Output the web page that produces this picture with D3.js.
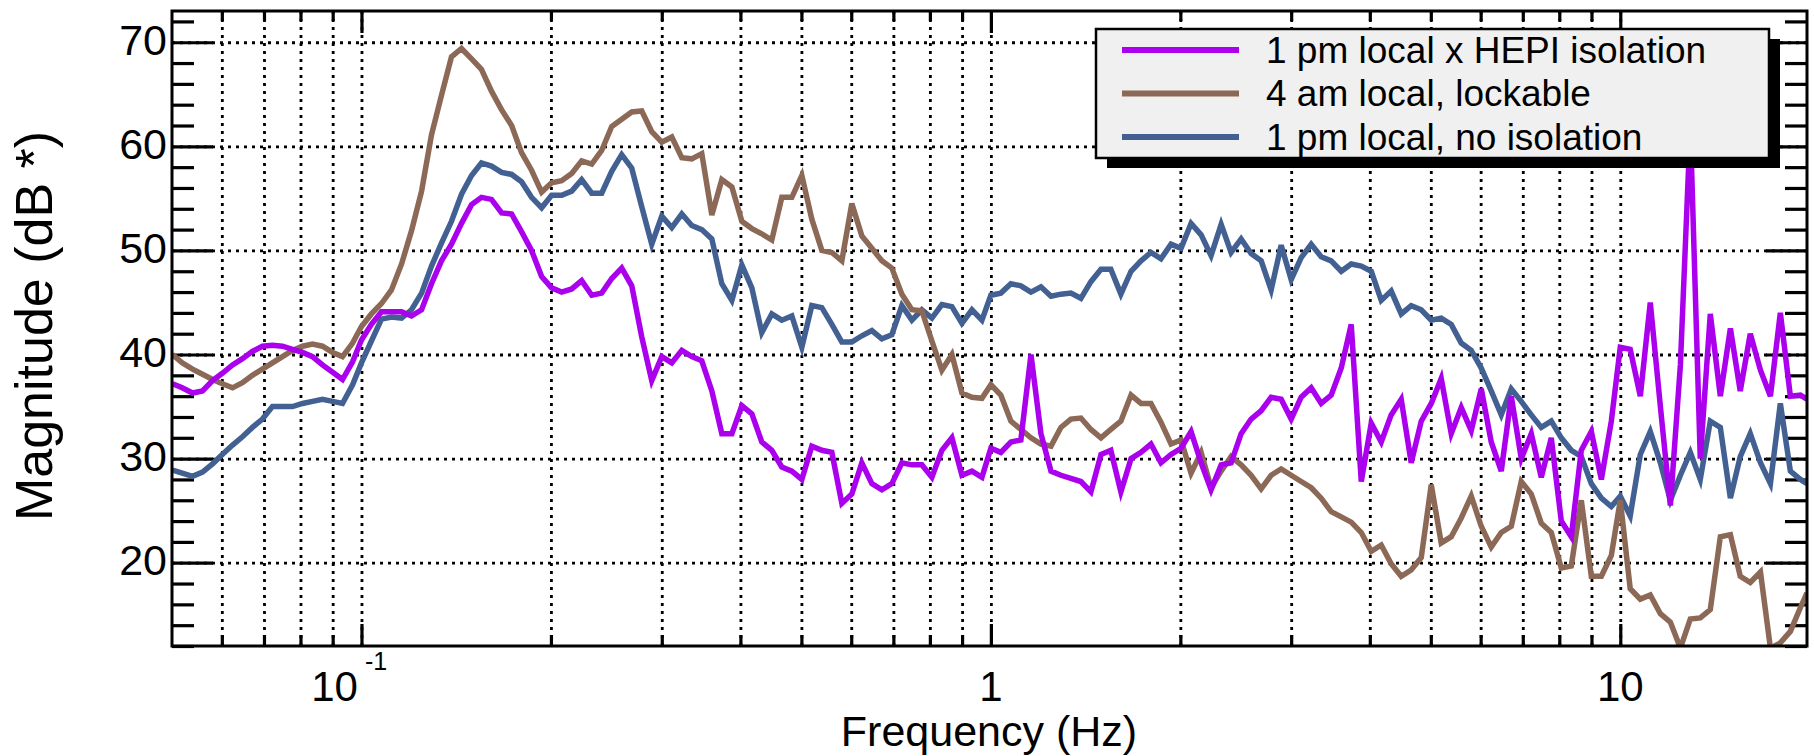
<!DOCTYPE html>
<html>
<head>
<meta charset="utf-8">
<script src="https://d3js.org/d3.v7.min.js"></script>
<style>
	body { margin: 0; background: #fff; }
	svg { display: block; }
	text { font-family: 'Liberation Sans', Arial, sans-serif; fill: #000; }
</style>
</head>
<body>
<div id="chart"></div>
<script>
var freqs = [
	0.0501, 0.0519, 0.0539, 0.0559, 0.0580, 0.0601, 0.0624, 0.0647, 0.0671, 0.0696,
	0.0722, 0.0749, 0.0777, 0.0806, 0.0836, 0.0867, 0.0900, 0.0933, 0.0968,
	0.1000, 0.1037, 0.1076, 0.1116, 0.1158, 0.1201, 0.1246, 0.1292, 0.1340, 0.1390,
	0.1442, 0.1496, 0.1551, 0.1609, 0.1670, 0.1732, 0.1796, 0.1863, 0.1933, 0.2005,
	0.2080, 0.2158, 0.2238, 0.2322, 0.2408, 0.2498, 0.2591, 0.2688, 0.2788, 0.2892,
	0.3000, 0.3112, 0.3228, 0.3348, 0.3473, 0.3603, 0.3737, 0.3877, 0.4021, 0.4171,
	0.4325, 0.4487, 0.4654, 0.4828, 0.5008, 0.5194, 0.5388, 0.5589, 0.5797, 0.6013,
	0.6237, 0.6470, 0.6711, 0.6961, 0.7221, 0.7490, 0.7769, 0.8059, 0.8359, 0.8671,
	0.8995, 0.9331, 0.9678,
	1.000, 1.037, 1.076, 1.116, 1.158, 1.201, 1.246, 1.292, 1.340, 1.390,
	1.442, 1.496, 1.551, 1.609, 1.670, 1.732, 1.796, 1.863, 1.933, 2.005,
	2.080, 2.158, 2.238, 2.322, 2.408, 2.498, 2.591, 2.688, 2.788, 2.892,
	3.000, 3.112, 3.228, 3.348, 3.473, 3.603, 3.737, 3.877, 4.021, 4.171,
	4.325, 4.487, 4.654, 4.828, 5.008, 5.194, 5.388, 5.589, 5.797, 6.013,
	6.237, 6.470, 6.711, 6.961, 7.221, 7.490, 7.769, 8.059, 8.359, 8.671,
	8.995, 9.331, 9.678,
	10.00, 10.37, 10.76, 11.16, 11.58, 12.01, 12.46, 12.92, 13.40, 13.90,
	14.42, 14.96, 15.51, 16.09, 16.70, 17.32, 17.96, 18.63, 19.33, 19.80
];

// 1 pm local x HEPI isolation
var hepiIsolation = [
	37.2, 36.8, 36.3, 36.5, 37.5, 38.2, 39.0, 39.6, 40.3, 40.8,
	40.9, 40.8, 40.5, 40.2, 39.8, 39.0, 38.3, 37.6, 39.3,
	41.4, 42.9, 44.1, 44.1, 44.1, 43.7, 44.3, 46.8, 49.0, 50.6,
	52.6, 54.4, 55.1, 54.9, 53.6, 53.5, 51.8, 50.0, 47.5, 46.4,
	46.0, 46.3, 47.1, 45.7, 45.9, 47.3, 48.3, 46.6, 41.7, 37.5,
	39.8, 39.2, 40.4, 39.8, 39.4, 36.5, 32.4, 32.4, 35.1, 34.3,
	31.6, 30.8, 29.2, 28.8, 28.0, 31.2, 30.8, 30.6, 25.7, 26.6,
	29.6, 27.6, 27.0, 27.6, 29.6, 29.4, 29.4, 28.2, 30.8, 32.0,
	28.4, 28.8, 28.2,
	31.0, 30.6, 31.6, 31.8, 40.0, 32.4, 28.8, 28.4, 28.1, 27.8,
	26.8, 30.4, 30.8, 26.8, 30.0, 30.6, 31.4, 29.6, 30.4, 31.0,
	32.6, 29.6, 27.0, 29.4, 29.6, 32.4, 33.8, 34.6, 35.9, 35.7,
	33.8, 35.9, 36.8, 35.3, 36.1, 38.7, 42.9, 27.8, 33.4, 31.6,
	34.2, 35.7, 29.6, 33.6, 35.3, 37.7, 32.4, 34.9, 32.7, 36.7,
	31.6, 28.8, 36.0, 30.0, 32.4, 28.2, 32.0, 24.0, 22.5, 30.8,
	32.6, 28.0, 33.6,
	40.7, 40.5, 36.0, 45.0, 35.0, 25.5, 39.0, 62.0, 30.0, 43.9,
	36.0, 42.5, 36.5, 42.0, 38.5, 36.0, 44.0, 36.0, 36.1, 35.7
];

// 4 am local, lockable
var lockable = [
	40.0, 39.2, 38.6, 38.1, 37.6, 37.2, 36.8, 37.3, 38.0, 38.6,
	39.2, 39.8, 40.4, 40.8, 41.0, 40.8, 40.2, 39.8, 41.1,
	42.7, 43.9, 44.9, 46.2, 48.7, 51.9, 55.7, 61.1, 64.9, 68.6,
	69.4, 68.4, 67.4, 65.3, 63.5, 62.0, 59.4, 57.7, 55.6, 56.5,
	56.7, 57.4, 58.6, 58.3, 59.6, 61.9, 62.6, 63.3, 63.4, 61.4,
	60.4, 60.9, 58.9, 58.8, 59.3, 53.4, 56.8, 56.1, 52.8, 52.1,
	51.6, 51.0, 55.1, 55.1, 57.2, 53.0, 50.0, 49.8, 49.0, 54.5,
	51.4, 50.2, 49.0, 48.3, 45.8, 44.3, 44.2, 41.3, 38.5, 40.0,
	36.3, 35.9, 35.8,
	37.1, 36.1, 33.6, 32.8, 32.0, 31.4, 31.2, 33.0, 33.8, 33.9,
	32.8, 32.0, 32.8, 33.6, 36.1, 35.3, 35.3, 33.5, 31.4, 31.8,
	28.6, 30.6, 27.2, 28.8, 30.2, 29.4, 28.4, 27.1, 28.4, 29.0,
	28.4, 27.8, 27.2, 26.2, 24.9, 24.4, 23.9, 22.9, 21.1, 21.7,
	19.9, 18.7, 19.3, 20.5, 27.5, 21.9, 22.5, 24.3, 26.4, 23.5,
	21.5, 22.9, 23.5, 27.8, 26.6, 23.8, 22.9, 19.5, 19.7, 26.0,
	18.7, 18.7, 20.7,
	26.0, 17.5, 16.5, 16.9, 15.1, 14.3, 11.8, 14.6, 14.7, 15.5,
	22.5, 22.7, 18.7, 18.1, 19.1, 11.8, 12.3, 13.4, 15.7, 17.1
];

// 1 pm local, no isolation
var noIsolation = [
	28.9, 28.6, 28.3, 28.7, 29.5, 30.4, 31.3, 32.1, 33.0, 33.8,
	35.0, 35.0, 35.0, 35.3, 35.5, 35.7, 35.5, 35.3, 37.1,
	39.2, 41.3, 43.4, 43.6, 43.5, 44.3, 45.9, 48.5, 50.7, 52.8,
	55.4, 57.2, 58.4, 58.1, 57.5, 57.3, 56.6, 55.1, 54.1, 55.3,
	55.3, 55.7, 56.8, 55.5, 55.5, 57.6, 59.2, 57.9, 54.2, 50.6,
	53.3, 52.2, 53.5, 52.4, 52.0, 51.1, 46.8, 45.2, 48.6, 46.4,
	42.1, 43.9, 43.3, 43.7, 40.7, 44.7, 44.5, 42.9, 41.2, 41.2,
	41.8, 42.3, 41.5, 41.9, 44.7, 43.3, 44.3, 43.5, 44.8, 44.6,
	43.0, 44.3, 43.3,
	45.7, 45.9, 46.8, 46.6, 46.0, 46.5, 45.6, 45.8, 45.9, 45.4,
	47.0, 48.2, 48.2, 45.8, 48.0, 49.0, 49.8, 49.2, 50.6, 50.2,
	52.6, 51.5, 49.5, 52.5, 49.8, 51.1, 49.7, 49.0, 46.2, 50.5,
	47.2, 49.3, 50.6, 49.4, 49.0, 48.0, 48.7, 48.5, 48.0, 45.2,
	46.1, 43.9, 44.7, 44.3, 43.3, 43.5, 42.9, 41.1, 40.4, 38.7,
	36.5, 34.2, 36.7, 35.5, 34.2, 33.0, 33.6, 32.0, 30.8, 30.2,
	27.6, 26.2, 25.4,
	26.4, 24.5, 30.4, 32.6, 29.6, 26.0, 28.4, 30.6, 28.0, 33.6,
	33.0, 26.2, 30.2, 32.4, 29.6, 27.6, 35.3, 28.8, 28.0, 27.6
];

var yMajorTicks = [20, 30, 40, 50, 60, 70];
var yMinorTicks = [12, 14, 16, 18, 22, 24, 26, 28, 32, 34, 36, 38, 42, 44, 46, 48,
	52, 54, 56, 58, 62, 64, 66, 68, 72];
var xMajorTicks = [0.1, 1, 10];
var xMinorTicks = [0.06, 0.07, 0.08, 0.09, 0.2, 0.3, 0.4, 0.5, 0.6, 0.7, 0.8, 0.9,
	2, 3, 4, 5, 6, 7, 8, 9];
var xTickLabels = ['10', '1', '10'];
var xTickExponents = ['-1', '', ''];
var legendLabels = ['1 pm local x HEPI isolation', '4 am local, lockable', '1 pm local, no isolation'];
var seriesColors = ['#aa00ee', '#8c6856', '#436093'];

var width = 1814;
var height = 756;
var margin = {top: 11, right: 7, bottom: 110, left: 172};
var plotWidth = width - margin.left - margin.right;
var plotHeight = height - margin.top - margin.bottom;

var svg = d3.select('#chart')
	.append('svg')
	.attr('width', width)
	.attr('height', height);

var x = d3.scaleLog()
	.domain([0.05, 19.8])
	.range([margin.left, width - margin.right]);
var y = d3.scaleLinear()
	.domain([12, 73])
	.range([height - margin.bottom, margin.top]);

var drawAxis = function(axis, tx, ty) {
	var g = svg.append('g')
		.attr('transform', 'translate(' + tx + ',' + ty + ')')
		.call(axis);
	g.select('.domain').remove();
	g.selectAll('line').attr('stroke', '#000').attr('stroke-width', 3.2);
	return g;
};

// dotted grid
drawAxis(d3.axisBottom(x).tickValues(xMinorTicks.concat(xMajorTicks)).tickSize(-plotHeight).tickFormat(''), 0, y(12))
	.selectAll('line')
	.attr('stroke-width', 2.8)
	.attr('stroke-dasharray', '3,5');
drawAxis(d3.axisLeft(y).tickValues(yMajorTicks).tickSize(-plotWidth).tickFormat(''), x(0.05), 0)
	.selectAll('line')
	.attr('stroke-width', 2.8)
	.attr('stroke-dasharray', '3,5');

// ticks on all four sides, pointing inward
drawAxis(d3.axisLeft(y).tickValues(yMinorTicks).tickSize(-22).tickFormat(''), x(0.05), 0);
drawAxis(d3.axisRight(y).tickValues(yMinorTicks).tickSize(-22).tickFormat(''), x(19.8), 0);
drawAxis(d3.axisRight(y).tickValues(yMajorTicks).tickSize(-41).tickFormat(''), x(19.8), 0);
drawAxis(d3.axisBottom(x).tickValues(xMinorTicks).tickSize(-11).tickFormat(''), 0, y(12));
drawAxis(d3.axisBottom(x).tickValues(xMajorTicks).tickSize(-22).tickFormat(''), 0, y(12));
drawAxis(d3.axisTop(x).tickValues(xMinorTicks).tickSize(-10).tickFormat(''), 0, y(73));
drawAxis(d3.axisTop(x).tickValues(xMajorTicks).tickSize(-22).tickFormat(''), 0, y(73));

var yLabels = drawAxis(d3.axisLeft(y).tickValues(yMajorTicks).tickSize(-41).tickPadding(5), x(0.05), 0);
yLabels.attr('font-size', 43).attr('font-family', null);
yLabels.selectAll('text').attr('dy', 12);

// x tick labels, first one as a power of ten
var xLabels = svg.append('g').selectAll('g')
	.data(xMajorTicks)
	.enter()
	.append('g')
	.attr('transform', function(d) {
		return 'translate(' + x(d) + ',701)';
	});
xLabels.append('text')
	.attr('font-size', 42)
	.attr('text-anchor', function(d, i) {
		return xTickExponents[i] ? 'end' : 'middle';
	})
	.attr('x', function(d, i) {
		return xTickExponents[i] ? -3.5 : 0;
	})
	.text(function(d, i) {
		return xTickLabels[i];
	});
xLabels.append('text')
	.attr('font-size', 25)
	.attr('x', 3.5)
	.attr('y', -31)
	.text(function(d, i) {
		return xTickExponents[i];
	});

svg.append('text')
	.attr('x', 989)
	.attr('y', 746)
	.attr('text-anchor', 'middle')
	.attr('font-size', 43)
	.text('Frequency (Hz)');

svg.append('text')
	.attr('transform', 'translate(52,326) rotate(-90)')
	.attr('text-anchor', 'middle')
	.attr('font-size', 52)
	.text('Magnitude (dB *)');

// traces
svg.append('clipPath')
	.attr('id', 'plotClip')
	.append('rect')
	.attr('x', margin.left)
	.attr('y', margin.top)
	.attr('width', plotWidth)
	.attr('height', plotHeight);

var line = d3.line()
	.x(function(d) { return x(d[0]); })
	.y(function(d) { return y(d[1]); });

var series = [hepiIsolation, lockable, noIsolation];
svg.append('g')
	.attr('clip-path', 'url(#plotClip)')
	.selectAll('path')
	.data([2, 1, 0])
	.enter()
	.append('path')
	.attr('d', function(i) {
		return line(d3.zip(freqs, series[i]));
	})
	.attr('fill', 'none')
	.attr('stroke', function(i) {
		return seriesColors[i];
	})
	.attr('stroke-width', 5.5);

svg.append('rect')
	.attr('x', margin.left)
	.attr('y', margin.top)
	.attr('width', plotWidth)
	.attr('height', plotHeight)
	.attr('fill', 'none')
	.attr('stroke', '#000')
	.attr('stroke-width', 3);

// legend with drop shadow
var legend = svg.append('g');
legend.append('rect')
	.attr('x', 1107)
	.attr('y', 39)
	.attr('width', 673)
	.attr('height', 129)
	.attr('fill', '#000');
legend.append('rect')
	.attr('x', 1096)
	.attr('y', 29)
	.attr('width', 673)
	.attr('height', 129)
	.attr('fill', '#f0f0f0')
	.attr('stroke', '#000')
	.attr('stroke-width', 2.5);

var rows = legend.selectAll('g')
	.data(legendLabels)
	.enter()
	.append('g')
	.attr('transform', function(d, i) {
		return 'translate(1122,' + (50 + i * 43.5) + ')';
	});
rows.append('line')
	.attr('x1', 0)
	.attr('x2', 117)
	.attr('stroke', function(d, i) {
		return seriesColors[i];
	})
	.attr('stroke-width', 6);
rows.append('text')
	.attr('x', 144)
	.attr('y', 12.5)
	.attr('font-size', 37)
	.text(function(d) {
		return d;
	});
</script>
</body>
</html>
